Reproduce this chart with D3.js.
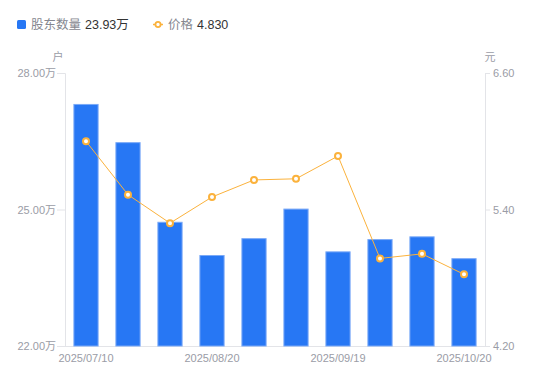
<!DOCTYPE html>
<html><head><meta charset="utf-8">
<script src="https://cdn.jsdelivr.net/npm/d3@7/dist/d3.min.js"></script>
<style>
html,body{margin:0;padding:0;background:#fff;}
text{font-family:"Liberation Sans",Arial,"Noto Sans CJK SC",sans-serif;}
</style></head>
<body><svg id="c" width="550" height="381"></svg>
<script>
const dates = ["2025/07/10","2025/07/18","2025/07/31","2025/08/20","2025/08/29","2025/09/10","2025/09/19","2025/09/30","2025/10/10","2025/10/20"];
const holders = [27.32, 26.48, 24.73, 24.00, 24.37, 25.02, 24.08, 24.35, 24.41, 23.93];
const prices = [6.00, 5.53, 5.28, 5.51, 5.66, 5.67, 5.87, 4.97, 5.01, 4.83];
const leftTicks = [22, 25, 28];
const rightTicks = [4.2, 5.4, 6.6];
const shownLabels = ["2025/07/10","2025/08/20","2025/09/19","2025/10/20"];

const svg = d3.select("#c");
const m = {l:65, r:485, t:73, b:346};
const x = d3.scaleBand().domain(dates).range([m.l, m.r]).paddingInner(0.4).paddingOuter(0.2);
const yL = d3.scaleLinear().domain([22, 28]).range([m.b, m.t]);
const yR = d3.scaleLinear().domain([4.2, 6.6]).range([m.b, m.t]);
const axisCol = "#e3e4e8", labCol = "#9a9ca6";

// axes
const gl = svg.append("g").attr("transform", `translate(${m.l},0)`)
  .call(d3.axisLeft(yL).tickValues(leftTicks).tickSize(8).tickPadding(1).tickFormat(d => d3.format(".2f")(d) + "万"));
const gr = svg.append("g").attr("transform", `translate(${m.r},0)`)
  .call(d3.axisRight(yR).tickValues(rightTicks).tickSize(5).tickPadding(3).tickFormat(d3.format(".2f")));
const gb = svg.append("g").attr("transform", `translate(0,${m.b})`)
  .call(d3.axisBottom(x).tickValues(shownLabels).tickSize(0).tickPadding(6));
[gl, gr, gb].forEach(g => {
  g.selectAll("path.domain").attr("stroke", axisCol);
  g.selectAll(".tick line").attr("stroke", axisCol);
  g.selectAll("text").attr("fill", labCol).attr("font-size", 11);
});
gb.select("path.domain").attr("d", `M${m.l},0.5H${m.r}`);
gb.selectAll("text").attr("dy", "0.9em");

// units
svg.append("text").attr("x", 58).attr("y", 61).attr("text-anchor", "middle").attr("fill", labCol).attr("font-size", 11).text("户");
svg.append("text").attr("x", 490).attr("y", 61).attr("text-anchor", "middle").attr("fill", labCol).attr("font-size", 11).text("元");

// bars
svg.append("g").selectAll("rect").data(holders).join("rect")
  .attr("x", (d, i) => x(dates[i]) + 0.5)
  .attr("y", d => yL(d) + 0.5)
  .attr("width", x.bandwidth() - 1)
  .attr("height", d => m.b - yL(d) - 0.5)
  .attr("fill", "#2777f4").attr("stroke", "#7aa9f7").attr("stroke-width", 1);

// line
const cx = (i) => x(dates[i]) + x.bandwidth() / 2;
svg.append("path").datum(prices)
  .attr("d", d3.line().x((d, i) => cx(i)).y(d => yR(d)))
  .attr("fill", "none").attr("stroke", "#fbb23c").attr("stroke-width", 1);
svg.append("g").selectAll("circle").data(prices).join("circle")
  .attr("cx", (d, i) => cx(i)).attr("cy", d => yR(d)).attr("r", 3)
  .attr("fill", "#fff").attr("stroke", "#fbb23c").attr("stroke-width", 2);

// legend
const lg = svg.append("g");
lg.append("rect").attr("x", 17).attr("y", 20).attr("width", 9).attr("height", 9).attr("rx", 1.5).attr("fill", "#2777f4");
lg.append("text").attr("x", 31).attr("y", 29).attr("fill", "#85878f").attr("font-size", 12.5).text("股东数量");
lg.append("text").attr("x", 85).attr("y", 29).attr("fill", "#333").attr("font-size", 12.5).text(d3.format(".2f")(holders[holders.length-1]) + "万");
lg.append("line").attr("x1", 153).attr("x2", 163).attr("y1", 24.5).attr("y2", 24.5).attr("stroke", "#fbb23c").attr("stroke-width", 1.5);
lg.append("circle").attr("cx", 158).attr("cy", 24.5).attr("r", 2.6).attr("fill", "#fff").attr("stroke", "#fbb23c").attr("stroke-width", 1.8);
lg.append("text").attr("x", 168).attr("y", 29).attr("fill", "#85878f").attr("font-size", 12.5).text("价格");
lg.append("text").attr("x", 197).attr("y", 29).attr("fill", "#333").attr("font-size", 12.5).text(d3.format(".3f")(prices[prices.length-1]));
</script></body></html>
